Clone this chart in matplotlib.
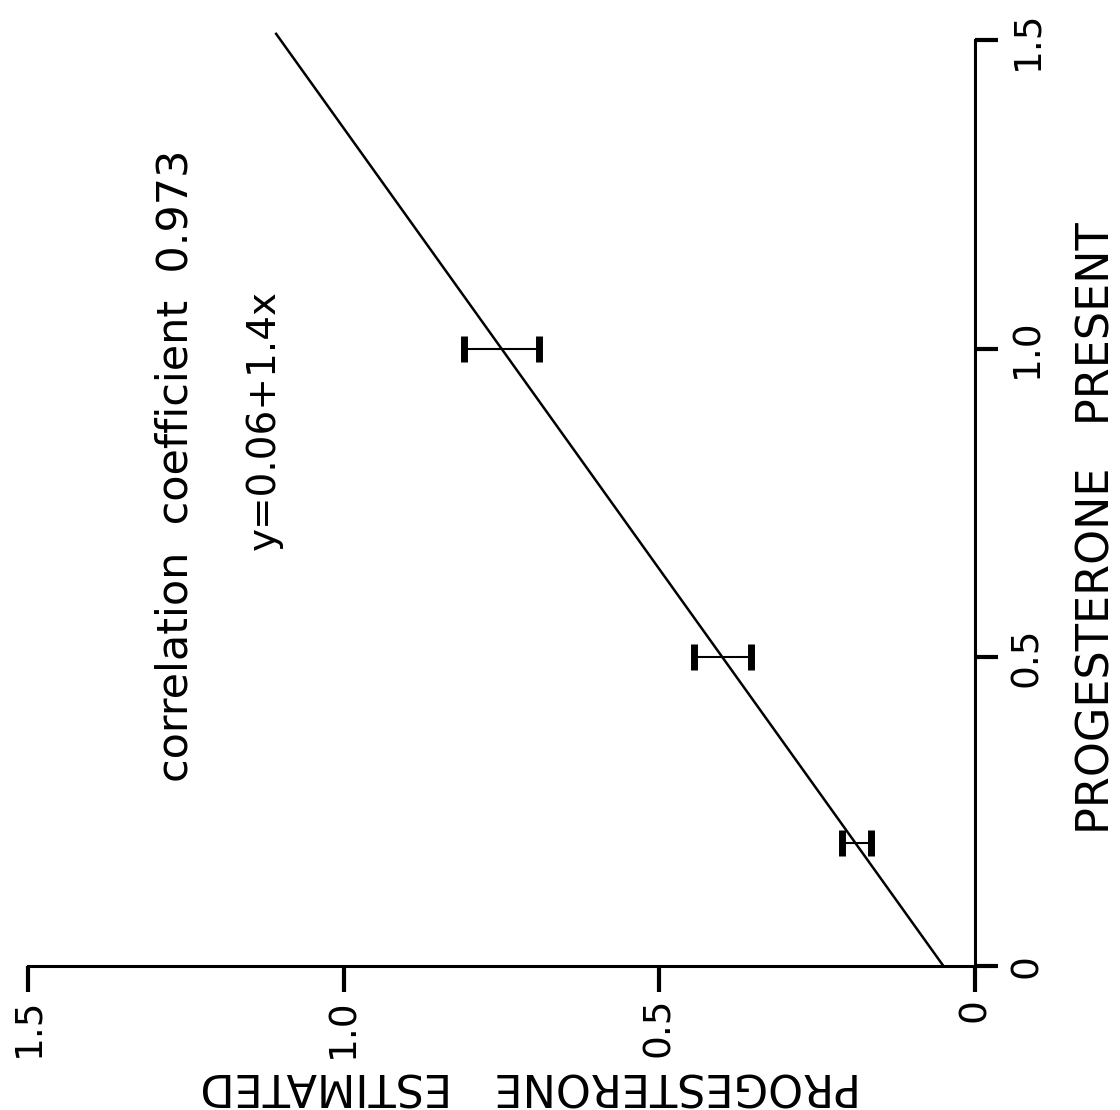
import numpy as np
import matplotlib
matplotlib.use("Agg")
import matplotlib.pyplot as plt

# progesterone present (vertical) vs estimated (horizontal, increasing to the left)
present = [0.2, 0.5, 1.0]
est_low = [0.165, 0.355, 0.69]
est_high = [0.211, 0.445, 0.81]

fit_present = [0.0, 1.51]
intercept = 0.05
slope = 0.70

tick_vals = [0, 0.5, 1.0, 1.5]
tick_labels = ["0", "0.5", "1.0", "1.5"]

corr_text = "correlation  coefficient  0.973"
eq_text = "y=0.06+1.4x"

W, H = 1120, 1110
fig = plt.figure(figsize=(W / 100, H / 100), dpi=100)
ax = fig.add_axes([28 / W, (H - 966) / H, (975 - 28) / W, (966 - 40) / H])

est_low = np.array(est_low)
est_high = np.array(est_high)
centre = (est_low + est_high) / 2
half = (est_high - est_low) / 2

fit_present = np.array(fit_present)
ax.plot(intercept + slope * fit_present, fit_present, color="black", lw=1.8,
        clip_on=False)
ax.errorbar(centre, present, xerr=half, fmt="none", ecolor="black",
            elinewidth=1.5, capsize=9.5, capthick=5)

ax.set_xlim(1.5, 0)
ax.set_ylim(0, 1.5)

for s in ["top", "left"]:
    ax.spines[s].set_visible(False)
for s in ["bottom", "right"]:
    ax.spines[s].set_linewidth(2.2)

ax.yaxis.tick_right()
ax.set_xticks(tick_vals)
ax.set_xticklabels(tick_labels)
ax.set_yticks(tick_vals)
ax.set_yticklabels(tick_labels)
ax.tick_params(axis="x", direction="out", length=19, width=3, pad=4,
               labelsize=27, labelrotation=90)
ax.tick_params(axis="y", direction="out", length=16.5, width=3, pad=8,
               labelsize=27, labelrotation=90)
for lab in ax.get_yticklabels():
    lab.set_verticalalignment("center")

fig.text(1097 / W, 1 - 528 / H, "PROGESTERONE   PRESENT", rotation=90,
         fontsize=32, ha="center", va="center")
fig.text(531 / W, 1 - 1085 / H, "PROGESTERONE   ESTIMATED", rotation=180,
         fontsize=32, ha="center", va="center")

fig.text(176 / W, 1 - 466 / H, corr_text, rotation=90, fontsize=31,
         ha="center", va="center")
fig.text(264 / W, 1 - 420 / H, eq_text, rotation=90, fontsize=28,
         ha="center", va="center")

fig.savefig("out.png", dpi=100)
